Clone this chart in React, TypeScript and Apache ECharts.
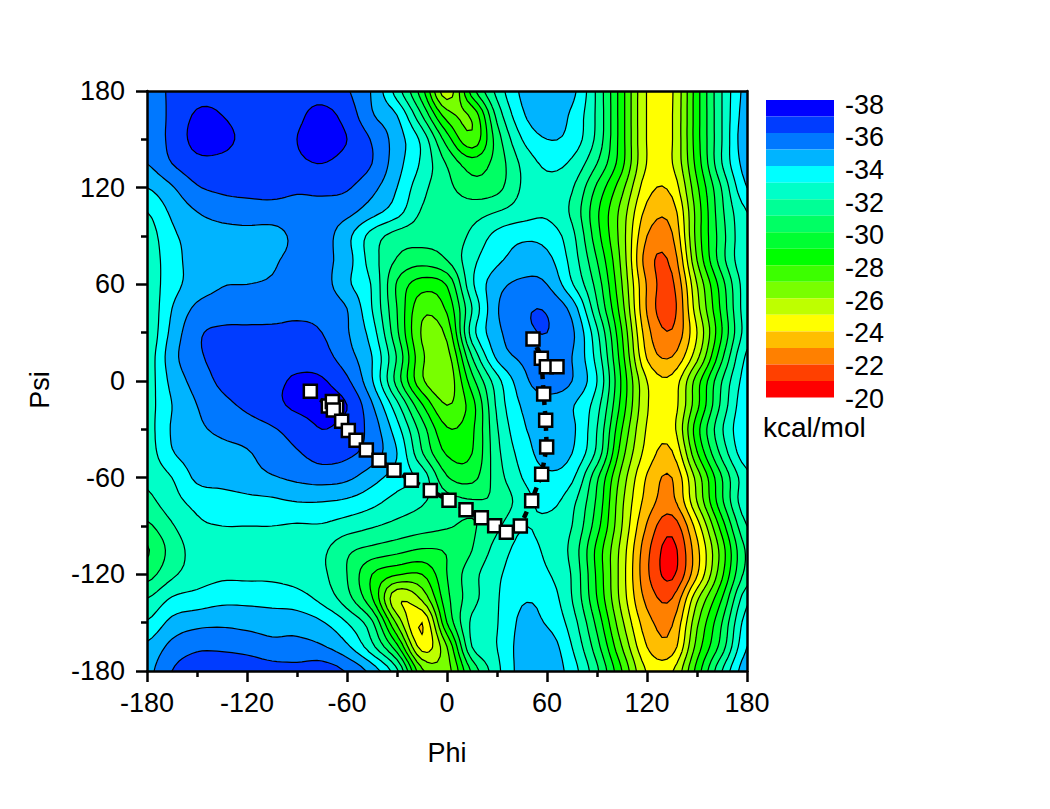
import React, { useEffect, useRef } from "react";
import * as echarts from "echarts";

const phiStart = -180;
const gridStep = 15;
const psi180 = [-35.4,-36.2,-36.7,-36.8,-36.7,-36.5,-36.6,-36.6,-36.1,-34.9,-32.5,-29.4,-25.4,-29.5,-32.3,-34.2,-34.8,-34.3,-31.8,-28.4,-24.95,-24.9,-28.6,-32,-34.4];
const psi165 = [-35,-36.3,-37.1,-37,-36.6,-36.5,-36.8,-37.3,-36.6,-35.1,-34,-31,-27.5,-27.2,-31.3,-33.8,-34.7,-33.8,-31.8,-28.4,-24.95,-24.95,-28.6,-32,-34.6];
const psi150 = [-35.2,-36.3,-37.3,-37.3,-36.7,-36.6,-37,-37.5,-37,-35.9,-34.5,-32.7,-29.5,-27.3,-30.5,-33,-34,-33.6,-31.7,-28.4,-24.95,-24.95,-28.6,-32,-34.8];
const psi135 = [-35,-36,-36.7,-36.7,-36.4,-36.4,-36.8,-37,-36.6,-36,-34.4,-32.8,-30.9,-29.5,-30.4,-32.2,-33.2,-32.8,-31,-28.3,-24.95,-24.95,-28.4,-32,-34.5];
const psi120 = [-34,-34.9,-35.9,-36.2,-36.3,-36.4,-36.2,-36.3,-36.1,-35.3,-34,-32.3,-31.3,-30.4,-30.7,-32.1,-32.7,-32.1,-29.8,-27.3,-24.4,-24.3,-27.8,-31.1,-34];
const psi105 = [-33,-34.2,-35,-35.4,-35.5,-35.5,-35.5,-35.5,-35.3,-34.4,-33.4,-31.9,-31.6,-31.6,-32,-32.5,-32.8,-31.8,-29.2,-26.6,-23.7,-23.5,-27.4,-30.8,-33];
const psi90 = [-32.5,-33.8,-34.4,-34.6,-34.7,-34.7,-35.2,-35.4,-34.3,-32.6,-31.6,-31.4,-31.4,-32.2,-33.3,-33.8,-33.6,-32.3,-29.4,-26.5,-23,-22.9,-27.4,-30.6,-32.9];
const psi75 = [-32.4,-33.6,-34.4,-34.5,-34.6,-34.9,-35.2,-35.3,-34.4,-32.5,-30.9,-30.4,-31,-32.7,-33.8,-34.4,-34.3,-32.6,-30,-26.7,-22.5,-22.3,-27,-30.6,-32.9];
const psi60 = [-32.4,-33.6,-34.5,-34.95,-35,-35.1,-35.3,-35.4,-34.2,-32.9,-29.9,-28.5,-29.1,-32.8,-34.6,-35.2,-35,-33.1,-30.6,-27,-22.9,-21.8,-26,-29.6,-32.6];
const psi45 = [-32.2,-34,-35.2,-35.4,-35.5,-35.6,-35.8,-35.7,-35,-33,-30,-27.3,-28.2,-32,-34.9,-35.8,-35.9,-34.6,-31.2,-27.4,-22.9,-21.6,-25.6,-29.3,-32.6];
const psi30 = [-32.2,-34.3,-35.8,-36.2,-36.2,-36.2,-36.2,-36,-35.1,-33.5,-30.2,-26.9,-27.3,-32.5,-34.7,-35.7,-36,-35.2,-32.2,-28,-23.4,-22.1,-25,-29,-32.5];
const psi15 = [-32.4,-34.6,-35.8,-36.3,-36.4,-36.6,-36.7,-36.4,-35.4,-34,-30.9,-27.2,-26.6,-31,-34.2,-35.2,-35.6,-35,-32.6,-28.4,-23.9,-23,-25.7,-29.8,-33.2];
const psi0 = [-32.5,-34.3,-35.4,-36.2,-36.5,-36.8,-37.1,-37.1,-36.2,-34.1,-30.6,-27.2,-26.3,-29.6,-32.6,-34.6,-35.6,-35,-33,-28.8,-25,-24.3,-27.5,-31,-33.5];
const psiM15 = [-32.6,-34,-35,-35.7,-36.2,-36.7,-37.2,-37.3,-37,-35.1,-32.3,-29.1,-27,-28.6,-32.2,-34.1,-34.5,-34.1,-32.4,-28.6,-25.1,-24.5,-27.7,-31.3,-33.8];
const psiM30 = [-32.6,-34.1,-34.8,-35.2,-35.5,-35.9,-36.4,-37,-36.6,-35.6,-33.4,-30.5,-28.1,-28.8,-31.9,-33.8,-34.4,-34.2,-32,-28,-24.9,-24.6,-28.6,-31.9,-33.9];
const psiM45 = [-32.5,-33.9,-34.5,-34.7,-34.9,-35.5,-35.9,-36.4,-36.2,-35.5,-34,-31.1,-28.9,-29,-31.7,-33.4,-34.4,-34,-31.7,-27.4,-24.6,-23.9,-27.9,-31.3,-33.7];
const psiM60 = [-32.2,-33,-34.2,-34.4,-34.6,-34.9,-35.2,-35.4,-35.2,-34.4,-33.5,-32.6,-30.1,-29.7,-31.5,-33,-33.8,-33.2,-30.2,-26.6,-23.9,-23,-26.4,-30,-32.7];
const psiM75 = [-31.7,-32.6,-33.3,-33.5,-33.7,-33.8,-34,-34,-33.8,-33.3,-32.6,-32.1,-31.4,-31.1,-31.2,-32.5,-33.3,-32.3,-29.8,-26.2,-23.6,-22.7,-26,-29.8,-32.8];
const psiM90 = [-30.8,-31.9,-32.8,-33,-33,-33,-32.9,-32.9,-32.5,-32.1,-31.7,-31.4,-31.1,-30.9,-31.8,-32.95,-32.7,-32,-29.4,-26,-22.9,-21.4,-24.5,-28.5,-32];
const psiM105 = [-29.9,-31.4,-32.4,-32.5,-32.6,-32.6,-32.5,-32.2,-31.2,-30.7,-30.3,-29.9,-30.1,-31,-32.4,-33.3,-32.8,-31.7,-28.7,-25.6,-22.3,-20.7,-23.7,-27.5,-31.2];
const psiM120 = [-30.6,-31.8,-32.5,-32.8,-32.8,-32.8,-32.6,-32.2,-31,-29,-28.1,-28,-30,-31.6,-32.8,-33.5,-33.1,-31.9,-28.8,-25.5,-22.2,-20.8,-23.9,-27.8,-31.4];
const psiM135 = [-32,-33.1,-33.4,-33.7,-33.7,-33.6,-33.4,-32.7,-31.4,-29.1,-25.2,-26.2,-29.7,-31.6,-32.9,-33.9,-33.6,-32,-29,-25.6,-22.7,-22,-25.8,-29,-32.7];
const psiM150 = [-33.1,-34.3,-34.7,-34.8,-34.7,-34.6,-34.6,-34.1,-33,-31.2,-26.8,-24,-29,-32.2,-32.95,-34.2,-33.9,-32.5,-29.7,-26.2,-23.4,-22.9,-26.8,-30,-33.5];
const psiM165 = [-34.2,-35.3,-35.8,-35.8,-35.6,-35.3,-35.3,-35.1,-34.2,-32.3,-29.3,-24.6,-27,-32,-33,-34.4,-34.6,-33,-30.4,-27,-24,-23.5,-27.4,-30.5,-34];
const psiM180 = [-34.7,-36,-36.6,-36.7,-36.7,-36.4,-36.3,-36.5,-35.9,-34.6,-32.2,-27.2,-26.6,-30.2,-32.7,-34.4,-34.7,-33.5,-31.2,-28,-24.9,-24.9,-28.4,-32,-34.7];
const energyRows = [psi180, psi165, psi150, psi135, psi120, psi105, psi90, psi75, psi60, psi45, psi30, psi15, psi0, psiM15, psiM30, psiM45, psiM60, psiM75, psiM90, psiM105, psiM120, psiM135, psiM150, psiM165, psiM180];

const levels = [-38,-37,-36,-35,-34,-33,-32,-31,-30,-29,-28,-27,-26,-25,-24,-23,-22,-21];
const bandColors = ["#0000ff","#003cff","#0078ff","#00b4ff","#00ffff","#00ffc8","#00ff96","#00ff64","#00ff32","#00ff00","#3cff00","#78ff00","#beff00","#ffff00","#ffbe00","#ff8000","#ff4000","#ff0000"];

const pathPhi = [-82,-71.2,-66.2,-68.8,-68.2,-63.2,-59.2,-54.6,-48.4,-40.8,-31.8,-21.4,-10,1.2,11.4,20.6,28.6,35.6,44,50.8,56.8,59.8,59.2,58,56.6,51.6,59.6,66];
const pathPsi = [-6.4,-15.5,-16.3,-12.8,-18,-25,-30.8,-36.8,-42.8,-49.2,-55.4,-61.6,-68,-74,-79.9,-84.9,-89.8,-93.9,-90,-74.3,-57.9,-41,-24.4,-8,14.1,26.1,8.9,8.9];

const fontFamily = "'Liberation Sans', Arial, sans-serif";
const textSize = 27;
const barTextSize = 27;
const unitTextSize = 28;
const subdivide = 5;

function catmull(a: number, b: number, c: number, d: number, t: number) {
  return 0.5 * (2 * b + (c - a) * t + (2 * a - 5 * b + 4 * c - d) * t * t + (3 * b - a - 3 * c + d) * t * t * t);
}

function buildFine() {
  const rows = energyRows.length;
  const cols = energyRows[0].length;
  const at = (j: number, i: number) =>
    energyRows[Math.max(0, Math.min(rows - 1, j))][Math.max(0, Math.min(cols - 1, i))];
  const ny = (rows - 1) * subdivide + 1;
  const nx = (cols - 1) * subdivide + 1;
  const raw: number[][] = [];
  for (let y = 0; y < ny; y++) {
    const fy = y / subdivide;
    const j = Math.min(rows - 2, Math.floor(fy));
    const ty = fy - j;
    const line: number[] = [];
    for (let x = 0; x < nx; x++) {
      const fx = x / subdivide;
      const i = Math.min(cols - 2, Math.floor(fx));
      const tx = fx - i;
      const col = [-1, 0, 1, 2].map((dj) =>
        catmull(at(j + dj, i - 1), at(j + dj, i), at(j + dj, i + 1), at(j + dj, i + 2), tx)
      );
      line.push(catmull(col[0], col[1], col[2], col[3], ty));
    }
    raw.push(line);
  }
  const low = -1000;
  const out: number[][] = [];
  const w = nx + 4;
  const h = ny + 4;
  for (let y = 0; y < h; y++) {
    const line: number[] = [];
    for (let x = 0; x < w; x++) {
      if (x === 0 || y === 0 || x === w - 1 || y === h - 1) line.push(low);
      else line.push(raw[Math.max(0, Math.min(ny - 1, y - 2))][Math.max(0, Math.min(nx - 1, x - 2))]);
    }
    out.push(line);
  }
  return out;
}

function traceLevel(g: number[][], level: number): [number, number][][] {
  const h = g.length;
  const w = g[0].length;
  const step = gridStep / subdivide;
  const toData = (x: number, y: number): [number, number] => [
    phiStart + (x - 2) * step,
    180 - (y - 2) * step,
  ];
  const next = new Map<string, string>();
  const pts = new Map<string, [number, number]>();
  for (let y = 0; y < h - 1; y++) {
    for (let x = 0; x < w - 1; x++) {
      const cx = [x, x + 1, x + 1, x];
      const cy = [y, y, y + 1, y + 1];
      const v = cx.map((_, k) => g[cy[k]][cx[k]]);
      const inside = v.map((n) => n >= level);
      const crossings: { key: string; exit: boolean }[] = [];
      for (let k = 0; k < 4; k++) {
        const m = (k + 1) % 4;
        if (inside[k] !== inside[m]) {
          const ax = Math.min(cx[k], cx[m]);
          const ay = Math.min(cy[k], cy[m]);
          const key = `${ax},${ay},${cx[k] === cx[m] ? "v" : "h"}`;
          if (!pts.has(key)) {
            const t = (level - v[k]) / (v[m] - v[k]);
            pts.set(key, toData(cx[k] + (cx[m] - cx[k]) * t, cy[k] + (cy[m] - cy[k]) * t));
          }
          crossings.push({ key, exit: inside[k] });
        }
      }
      for (let c = 0; c < crossings.length; c++) {
        if (crossings[c].exit) {
          next.set(crossings[c].key, crossings[(c + 1) % crossings.length].key);
        }
      }
    }
  }
  const loops: [number, number][][] = [];
  const seen = new Set<string>();
  next.forEach((_, start) => {
    if (seen.has(start)) return;
    const loop: [number, number][] = [];
    let cur: string | undefined = start;
    while (cur && !seen.has(cur)) {
      seen.add(cur);
      loop.push(pts.get(cur)!);
      cur = next.get(cur);
    }
    if (loop.length > 2) loops.push(loop);
  });
  return loops;
}

export default function App() {
  const ref = useRef<HTMLDivElement>(null);
  useEffect(() => {
    if (!ref.current) return;
    const chart = echarts.init(ref.current, undefined, { renderer: "svg" });
    const fine = buildFine();
    const loopsByLevel = levels.map((l) => traceLevel(fine, l));
    const labelStyle = { color: "#000", fontFamily, fontSize: textSize };
    const frame = { show: true, onZero: false, lineStyle: { color: "#000", width: 2.5 } };
    chart.setOption({
      animation: false,
      backgroundColor: "#fff",
      textStyle: { fontFamily },
      grid: [
        { left: 147, top: 91, width: 600, height: 580 },
        { left: 766, top: 100, width: 68, height: 297.5 },
        { left: 766, top: 104.5, width: 68, height: 294 },
      ],
      xAxis: [
        {
          type: "value", gridIndex: 0, min: -180, max: 180, interval: 60, position: "bottom", z: 5,
          axisLine: frame,
          axisTick: { show: true, length: 11, lineStyle: { color: "#000", width: 2.5 } },
          minorTick: { show: true, splitNumber: 2, length: 6, lineStyle: { color: "#000", width: 2.5 } },
          splitLine: { show: false },
          axisLabel: { ...labelStyle, margin: 18 },
          name: "Phi", nameLocation: "middle", nameGap: 68,
          nameTextStyle: labelStyle,
        },
        {
          type: "value", gridIndex: 0, min: -180, max: 180, position: "top", z: 5,
          axisLine: frame, axisTick: { show: false }, axisLabel: { show: false }, splitLine: { show: false },
        },
        { type: "value", gridIndex: 1, min: 0, max: 1, show: false },
        { type: "value", gridIndex: 2, min: 0, max: 1, show: false },
      ],
      yAxis: [
        {
          type: "value", gridIndex: 0, min: -180, max: 180, interval: 60, position: "left", z: 5,
          axisLine: frame,
          axisTick: { show: true, length: 11, lineStyle: { color: "#000", width: 2.5 } },
          minorTick: { show: true, splitNumber: 2, length: 6, lineStyle: { color: "#000", width: 2.5 } },
          splitLine: { show: false },
          axisLabel: { ...labelStyle, margin: 22 },
          name: "Psi", nameLocation: "middle", nameGap: 94, nameRotate: 90,
          nameTextStyle: { ...labelStyle, padding: [0, 18, 0, 0] },
        },
        {
          type: "value", gridIndex: 0, min: -180, max: 180, position: "right", z: 5,
          axisLine: frame, axisTick: { show: false }, axisLabel: { show: false }, splitLine: { show: false },
        },
        { type: "value", gridIndex: 1, min: -38, max: -20, inverse: true, show: false },
        {
          type: "value", gridIndex: 2, min: -38, max: -20, inverse: true, position: "right", interval: 2,
          axisLine: { show: false }, axisTick: { show: false }, splitLine: { show: false },
          axisLabel: { color: "#000", fontFamily, fontSize: barTextSize, margin: 11 },
        },
      ],
      graphic: [
        {
          type: "text", left: 763, top: 413,
          style: { text: "kcal/mol", fill: "#000", font: `${unitTextSize}px ${fontFamily}`, lineHeight: 22 },
        },
      ],
      series: [
        {
          type: "custom",
          xAxisIndex: 0,
          yAxisIndex: 0,
          coordinateSystem: "cartesian2d",
          clip: true,
          z: 2,
          silent: true,
          data: levels.map((_, i) => [0, 0, i]),
          renderItem: (_: any, api: any) => {
            const idx = api.value(2);
            let d = "";
            for (const loop of loopsByLevel[idx]) {
              loop.forEach((p, k) => {
                const c = api.coord(p);
                d += `${k ? "L" : "M"}${c[0].toFixed(1)} ${c[1].toFixed(1)}`;
              });
              d += "Z";
            }
            return {
              type: "path",
              shape: { pathData: d },
              style: { fill: bandColors[idx], stroke: "#000", lineWidth: 1.2 },
            };
          },
        },
        {
          type: "custom",
          xAxisIndex: 2,
          yAxisIndex: 2,
          coordinateSystem: "cartesian2d",
          silent: true,
          data: levels.map((l, i) => [0, l, i]),
          renderItem: (_: any, api: any) => {
            const lo = api.value(1);
            const a = api.coord([0, lo]);
            const b = api.coord([1, lo + 1]);
            return {
              type: "rect",
              shape: { x: a[0], y: a[1], width: b[0] - a[0], height: b[1] - a[1] },
              style: { fill: bandColors[api.value(2)] },
            };
          },
        },
        {
          type: "line",
          xAxisIndex: 0,
          yAxisIndex: 0,
          z: 10,
          silent: true,
          data: pathPhi.map((p, i) => [p, pathPsi[i]]),
          lineStyle: { color: "#000", width: 4.5, type: [7, 6] },
          symbol: "rect",
          symbolSize: 13,
          showSymbol: true,
          showAllSymbol: true,
          itemStyle: { color: "#fff", borderColor: "#000", borderWidth: 2.5 },
        },
      ],
    });
    return () => chart.dispose();
  }, []);
  return <div ref={ref} style={{ position: "fixed", left: 0, top: 0, width: 1050, height: 809 }} />;
}
